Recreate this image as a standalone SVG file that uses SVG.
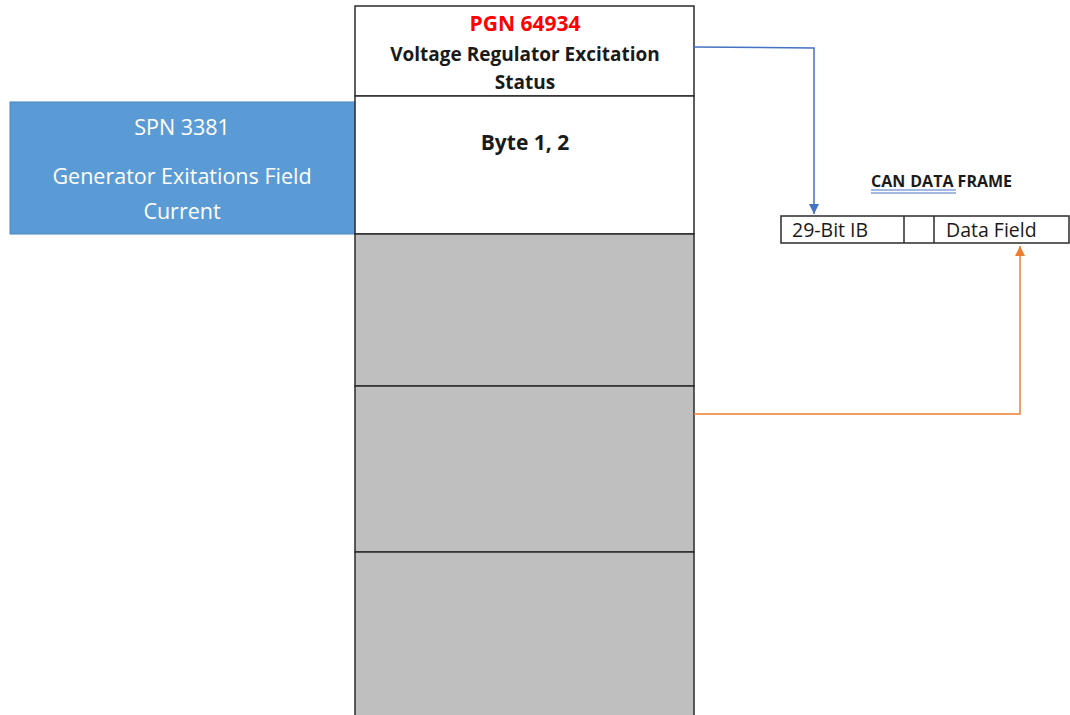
<svg xmlns="http://www.w3.org/2000/svg" width="1070" height="715" viewBox="0 0 1070 715">
<style>
.t{font-family:"Open Sans","Liberation Sans",sans-serif;}
.b{font-weight:bold;}
.cell{stroke:#2b2b2b;stroke-width:1.5;}
</style>
<defs>
<marker id="ab" viewBox="0 0 10 10" refX="10" refY="5" markerWidth="10" markerHeight="10" markerUnits="userSpaceOnUse" orient="auto"><path d="M0,0 L10,5 L0,10 z" fill="#4472C4"/></marker>
<marker id="ao" viewBox="0 0 10 10" refX="10" refY="5" markerWidth="10" markerHeight="10" markerUnits="userSpaceOnUse" orient="auto"><path d="M0,0 L10,5 L0,10 z" fill="#ED7D31"/></marker>
</defs>
<rect width="1070" height="715" fill="#fff"/>
<g id="spn">
<rect x="10" y="102" width="345" height="132" fill="#5B9BD5" stroke="#4a86bf" stroke-width="1"/>
<text class="t" x="182" y="135" font-size="21.5" fill="#fff" text-anchor="middle">SPN 3381</text>
<text class="t" x="182" y="184" font-size="21.5" fill="#fff" text-anchor="middle">Generator Exitations Field</text>
<text class="t" x="182" y="219" font-size="21.5" fill="#fff" text-anchor="middle">Current</text>
</g>
<g id="pgn">
<rect class="cell" x="355" y="6" width="339" height="90" fill="#fff"/>
<text class="t b" x="525" y="31" font-size="21" fill="#FF0000" text-anchor="middle">PGN 64934</text>
<text class="t b" x="525" y="61" font-size="19" fill="#1a1a1a" text-anchor="middle">Voltage Regulator Excitation</text>
<text class="t b" x="525" y="89" font-size="19" fill="#1a1a1a" text-anchor="middle">Status</text>
</g>
<g id="byte12">
<rect class="cell" x="355" y="96" width="339" height="138" fill="#fff"/>
<text class="t b" x="525" y="150" font-size="21" fill="#1a1a1a" text-anchor="middle">Byte 1, 2</text>
</g>
<g id="byte3">
<rect class="cell" x="355" y="234" width="339" height="152" fill="#BFBFBF"/>
</g>
<g id="byte4">
<rect class="cell" x="355" y="386" width="339" height="166" fill="#BFBFBF"/>
</g>
<g id="byte5">
<rect class="cell" x="355" y="552" width="339" height="175" fill="#BFBFBF"/>
</g>
<g id="canframe">
<text class="t b" x="871" y="187" font-size="16" fill="#1a1a1a">CAN<tspan dx="5">DATA</tspan> FRAME</text>
<line x1="871" y1="190" x2="956" y2="190" stroke="#4472C4" stroke-width="1"/>
<line x1="871" y1="193" x2="956" y2="193" stroke="#4472C4" stroke-width="1"/>
<rect class="cell" x="781" y="216" width="288" height="27" fill="#fff" stroke-width="1.2"/>
<line class="cell" x1="904" y1="216" x2="904" y2="243" stroke-width="1.2"/>
<line class="cell" x1="934" y1="216" x2="934" y2="243" stroke-width="1.2"/>
<text class="t" x="792" y="237" font-size="19.5" fill="#1a1a1a">29-Bit IB</text>
<text class="t" x="946" y="237" font-size="19.5" fill="#1a1a1a">Data Field</text>
</g>
<g id="connectors" fill="none" stroke-width="1.5">
<polyline points="694,47 814,48 814,214" stroke="#4472C4" marker-end="url(#ab)"/>
<polyline points="694,414 1020,414 1020,246" stroke="#ED7D31" marker-end="url(#ao)"/>
</g>
</svg>
